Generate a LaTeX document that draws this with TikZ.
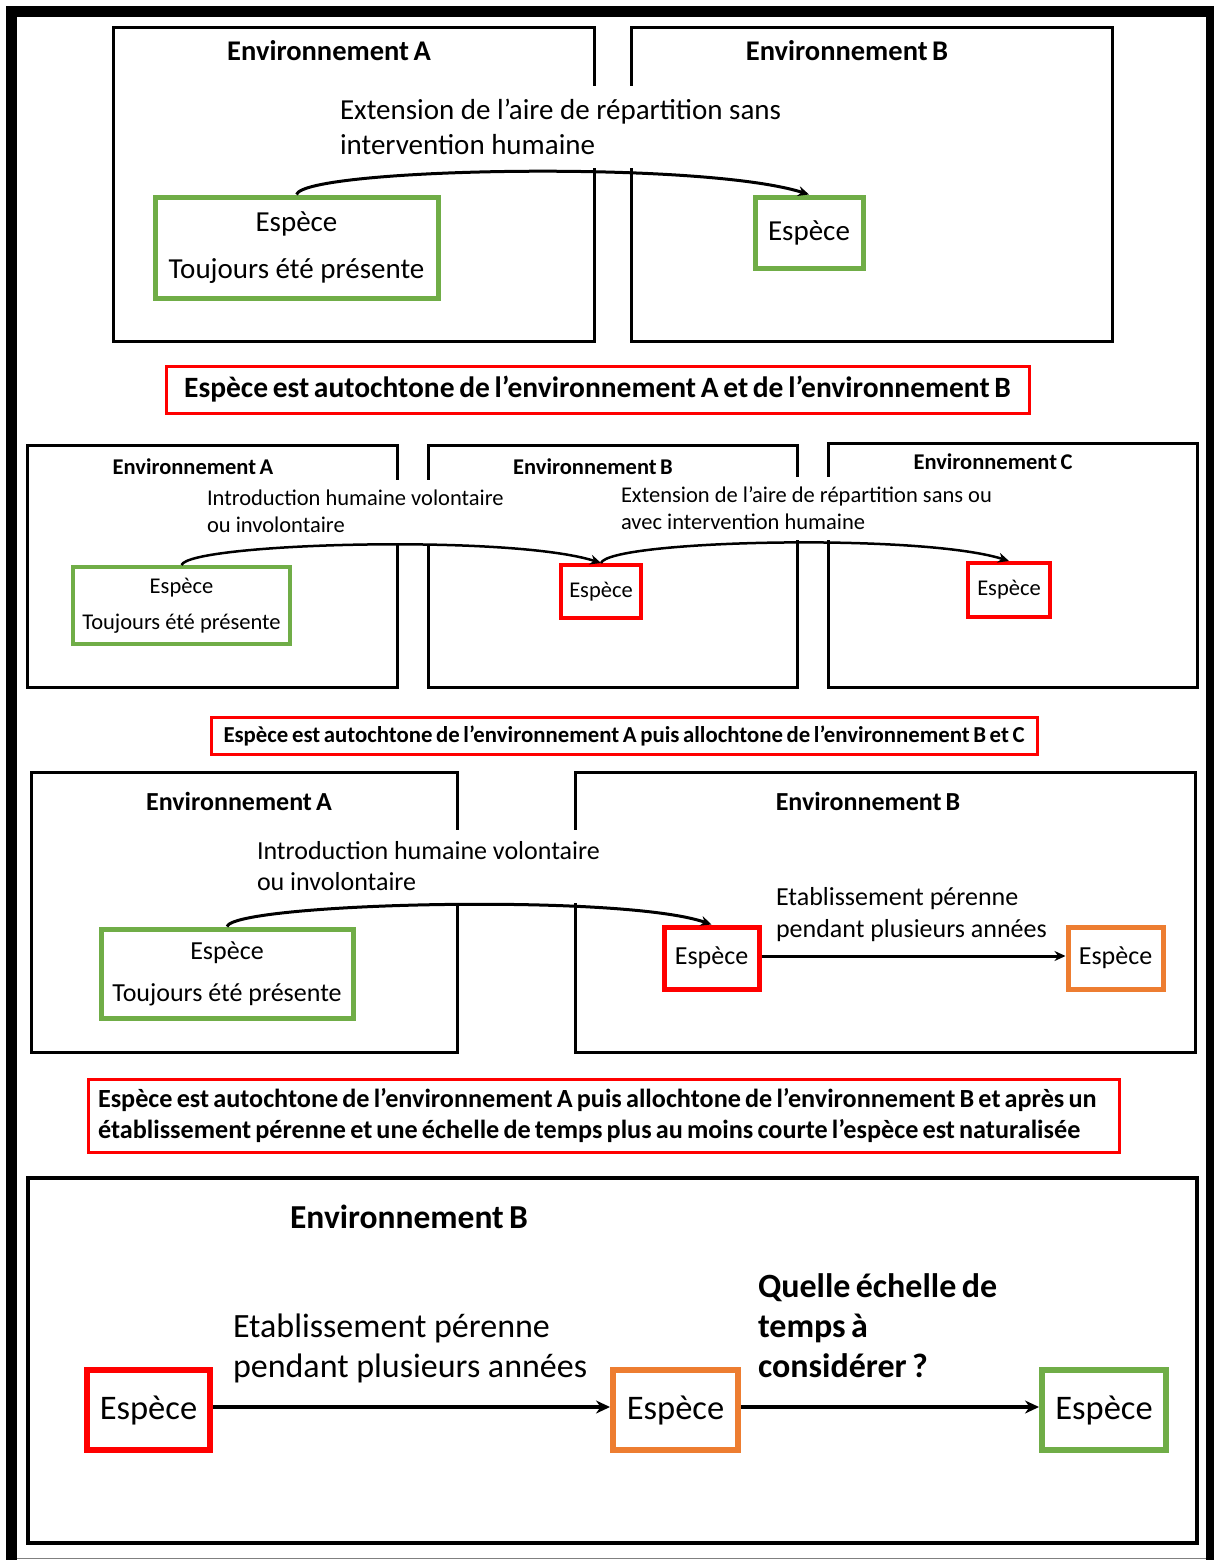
\documentclass[tikz,border=0pt]{standalone}
\usepackage{fontspec}
\setmainfont{Carlito}[BoldFeatures={WordSpace=0.7}]
\usetikzlibrary{arrows.meta}
\definecolor{grn}{HTML}{70AD47}
\definecolor{rd}{HTML}{FF0000}
\definecolor{org}{HTML}{ED7D31}
\begin{document}
\begin{tikzpicture}[x=1pt,y=-1pt,
  envbox/.style={draw=black,line width=3pt,inner sep=0pt},
  sbox/.style={draw=#1,line width=4.5pt,inner sep=0pt,align=center},
  lbl/.style={fill=white,inner ysep=0pt,align=left,
    execute at begin node={\spaceskip=\fontdimen2\font\relax}},
  ttl/.style={inner sep=0pt},
  concl/.style={draw=rd,line width=3pt,inner sep=0pt},
  arr/.style={line width=3pt,-{Stealth[length=11pt,width=10pt]}},
  bigarr/.style={line width=4.5pt,-{Stealth[length=14pt,width=13pt]}},
]
\useasboundingbox (0,0) rectangle (1213,1560);
\fill[white] (0,0) rectangle (1213,1560);
\draw[line width=11pt] (11.5,1590) -- (11.5,11.5) -- (1211.5,11.5) -- (1211.5,1590);
\draw[gray,line width=1.5pt] (17,1558.5) -- (1206,1558.5);

% ---------------- Panel 1
\node[envbox,minimum width=481pt,minimum height=313pt] (p1a) at (353.5,184.5) {};
\node[envbox,minimum width=481pt,minimum height=313pt] (p1b) at (871.5,184.5) {};
\node[ttl,font=\bfseries\fontsize{28.5}{34}\selectfont] (t1a) at (329,51) {Environnement A};
\node[ttl,font=\bfseries\fontsize{28.5}{34}\selectfont] (t1b) at (847,51) {Environnement B};
\node[lbl,inner xsep=11pt,text width=492pt,minimum height=82pt,font=\fontsize{29}{35}\selectfont] (l1) at (586,127)
  {Extension de l’aire de répartition sans\\intervention humaine};
\node[sbox=grn,line width=5pt,minimum width=283pt,minimum height=101pt,font=\fontsize{29}{47}\selectfont] (g1) at (296.5,247.5)
  {Espèce\\Toujours été présente};
\node[sbox=grn,line width=5pt,minimum width=108pt,minimum height=71pt,font=\fontsize{29}{34}\selectfont] (g1b) at (809,232.5) {Espèce};
\draw[arr] (g1.north) .. controls (305,168) and (700,160) .. (g1b.north);
\node[concl,minimum width=863pt,minimum height=47pt,font=\bfseries\fontsize{29.5}{34}\selectfont] (c1) at (597.5,389.5)
  {Espèce est autochtone de l’environnement A et de l’environnement B};

% ---------------- Panel 2
\node[envbox,minimum width=370pt,minimum height=242pt] (p2a) at (212,566) {};
\node[envbox,minimum width=369pt,minimum height=242pt] (p2b) at (612.5,566) {};
\node[envbox,minimum width=369pt,minimum height=244pt] (p2c) at (1012.5,565) {};
\node[ttl,font=\bfseries\fontsize{22.5}{26}\selectfont] (t2a) at (193,467) {Environnement A};
\node[ttl,font=\bfseries\fontsize{22.5}{26}\selectfont] (t2b) at (593,467) {Environnement B};
\node[ttl,font=\bfseries\fontsize{22.5}{26}\selectfont] (t2c) at (993,462) {Environnement C};
\node[lbl,inner xsep=9pt,text width=309pt,minimum height=64pt,font=\fontsize{22.5}{27}\selectfont] (l2a) at (361.5,511.5)
  {Introduction humaine volontaire\\ou involontaire};
\node[lbl,inner xsep=8pt,text width=381pt,minimum height=63pt,font=\fontsize{22.5}{27}\selectfont] (l2b) at (811.5,508.5)
  {Extension de l’aire de répartition sans ou\\avec intervention humaine};
\node[sbox=grn,line width=4pt,minimum width=217pt,minimum height=77pt,font=\fontsize{22.5}{36}\selectfont] (g2) at (181.5,605.5)
  {Espèce\\Toujours été présente};
\node[sbox=rd,line width=4pt,minimum width=80pt,minimum height=53pt,font=\fontsize{22.5}{27}\selectfont] (r2b) at (601,591.5) {Espèce};
\node[sbox=rd,line width=4pt,minimum width=82pt,minimum height=54pt,font=\fontsize{22.5}{27}\selectfont] (r2c) at (1009,590) {Espèce};
\draw[arr,line width=2.5pt] (g2.north) .. controls (190,543) and (510,534) .. (r2b.north);
\draw[arr,line width=2.5pt] (r2b.north) .. controls (610,540) and (920,533) .. (r2c.north);
\node[concl,minimum width=826pt,minimum height=37pt,font=\bfseries\fontsize{22.8}{26}\selectfont] (c2) at (624,735.5)
  {Espèce est autochtone de l’environnement A puis allochtone de l’environnement B et C};

% ---------------- Panel 3
\node[envbox,minimum width=426pt,minimum height=280pt] (p3a) at (244,912) {};
\node[envbox,minimum width=620pt,minimum height=280pt] (p3b) at (885,912) {};
\node[ttl,font=\bfseries\fontsize{26}{30}\selectfont] (t3a) at (239,801) {Environnement A};
\node[ttl,font=\bfseries\fontsize{26}{30}\selectfont] (t3b) at (868,801) {Environnement B};
\node[lbl,inner xsep=10pt,text width=356pt,minimum height=73pt,font=\fontsize{26}{31}\selectfont] (l3a) at (435,866.5)
  {Introduction humaine volontaire\\ou involontaire};
\node[lbl,inner xsep=10pt,text width=300pt,minimum height=76pt,font=\fontsize{26}{32}\selectfont] (l3b) at (926,915)
  {Etablissement pérenne\\pendant plusieurs années};
\node[sbox=grn,line width=5pt,minimum width=252pt,minimum height=89pt,font=\fontsize{26}{42}\selectfont] (g3) at (227,973.5)
  {Espèce\\Toujours été présente};
\node[sbox=rd,line width=5pt,minimum width=95pt,minimum height=62pt,font=\fontsize{26}{31}\selectfont] (r3) at (711.5,958) {Espèce};
\node[sbox=org,line width=5pt,minimum width=95pt,minimum height=62pt,font=\fontsize{26}{31}\selectfont] (o3) at (1115.5,958) {Espèce};
\draw[arr] (g3.north) .. controls (235,903) and (620,893) .. (r3.north);
\draw[arr] ([yshift=2pt]r3.east) -- ([yshift=2pt]o3.west);
\node[concl,inner xsep=10pt,text width=1011pt,minimum height=73pt,align=left,
  execute at begin node={\spaceskip=\fontdimen2\font\relax},
  font=\bfseries\fontsize{26.2}{31}\selectfont] (c3) at (603.5,1115.5)
  {Espèce est autochtone de l’environnement A puis allochtone de l’environnement B et après un\\établissement pérenne et une échelle de temps plus au moins courte l’espèce est naturalisée};

% ---------------- Panel 4
\node[envbox,line width=4pt,minimum width=1169pt,minimum height=365pt] (p4) at (612.5,1360.5) {};
\node[ttl,font=\bfseries\fontsize{33.5}{40}\selectfont] (t4) at (409,1217) {Environnement B};
\node[lbl,inner xsep=13pt,text width=380pt,minimum height=93pt,font=\fontsize{34}{40}\selectfont] (l4a) at (423,1348.5)
  {Etablissement pérenne\\pendant plusieurs années};
\node[lbl,inner xsep=16pt,text width=254pt,minimum height=135pt,font=\bfseries\fontsize{34}{40}\selectfont] (l4b) at (885,1325.5)
  {Quelle échelle de\\temps à\\considérer ?};
\node[sbox=rd,line width=6pt,minimum width=123pt,minimum height=80pt,font=\fontsize{34.5}{40}\selectfont] (r4) at (148.5,1410) {Espèce};
\node[sbox=org,line width=6pt,minimum width=125pt,minimum height=80pt,font=\fontsize{34.5}{40}\selectfont] (o4) at (675.5,1410) {Espèce};
\node[sbox=grn,line width=6pt,minimum width=124pt,minimum height=80pt,font=\fontsize{34.5}{40}\selectfont] (g4) at (1104,1410) {Espèce};
\draw[bigarr] ([yshift=3pt]r4.east) -- ([yshift=3pt]o4.west);
\draw[bigarr] ([yshift=3pt]o4.east) -- ([yshift=3pt]g4.west);
\end{tikzpicture}
\end{document}
